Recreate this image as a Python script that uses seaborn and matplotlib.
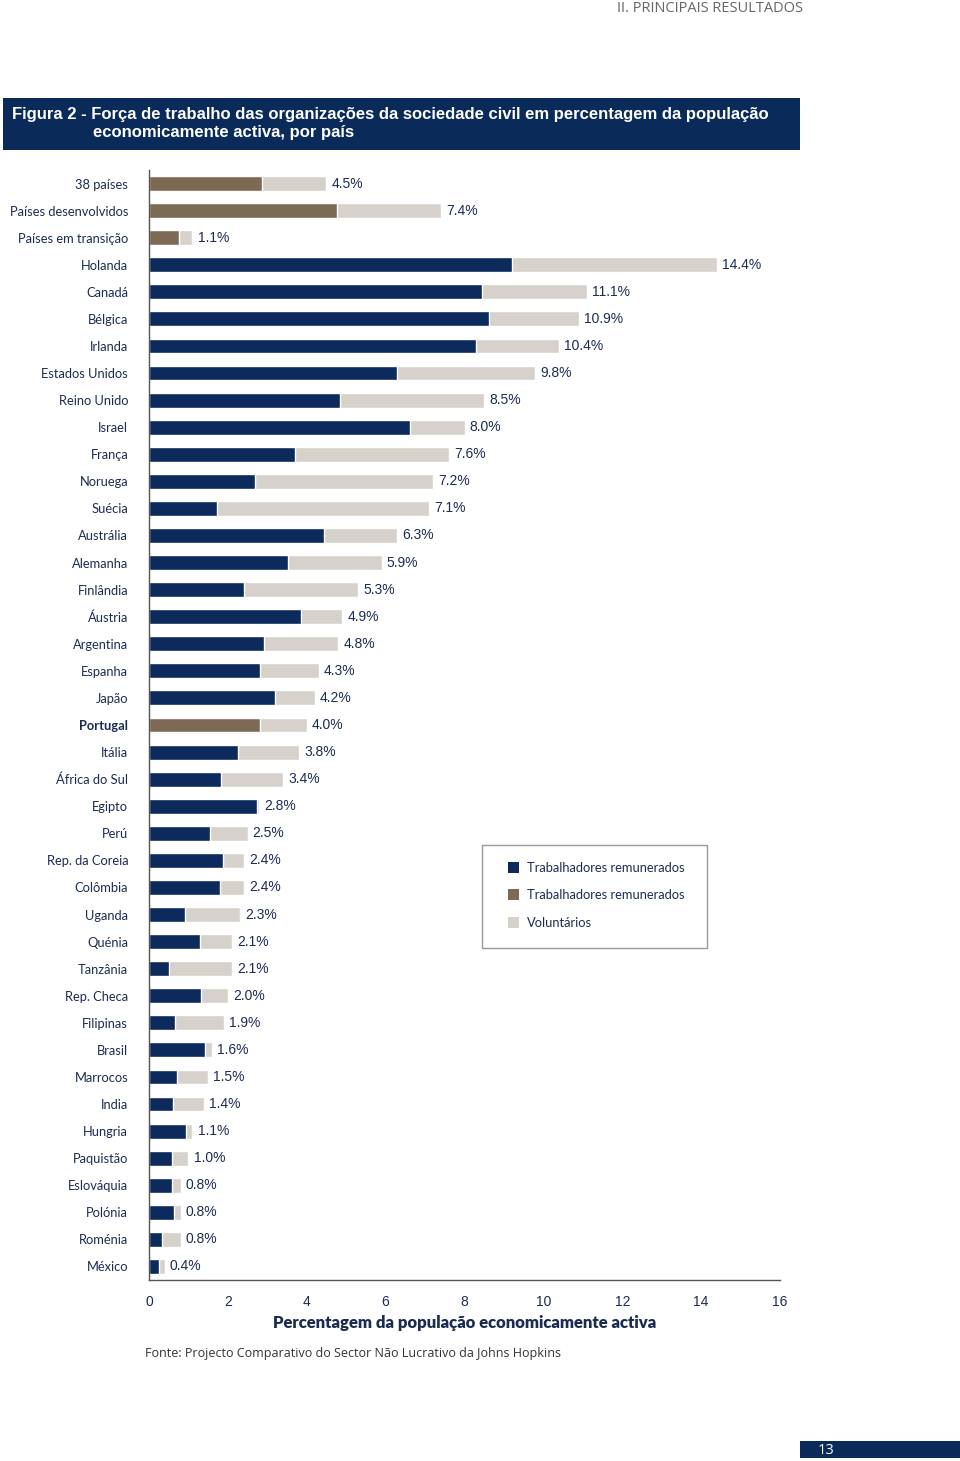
import numpy as np
import pandas as pd
import matplotlib
matplotlib.use("Agg")
import matplotlib.pyplot as plt
from matplotlib.patches import Rectangle
import seaborn as sns

# dados
paises = ["38 países", "Países desenvolvidos", "Países em transição", "Holanda", "Canadá",
          "Bélgica", "Irlanda", "Estados Unidos", "Reino Unido", "Israel", "França", "Noruega",
          "Suécia", "Austrália", "Alemanha", "Finlândia", "Áustria", "Argentina", "Espanha",
          "Japão", "Portugal", "Itália", "África do Sul", "Egipto", "Perú", "Rep. da Coreia",
          "Colômbia", "Uganda", "Quénia", "Tanzânia", "Rep. Checa", "Filipinas", "Brasil",
          "Marrocos", "India", "Hungria", "Paquistão", "Eslováquia", "Polónia", "Roménia", "México"]
total = [4.5, 7.4, 1.1, 14.4, 11.1, 10.9, 10.4, 9.8, 8.5, 8.0, 7.6, 7.2, 7.1, 6.3, 5.9, 5.3,
         4.9, 4.8, 4.3, 4.2, 4.0, 3.8, 3.4, 2.8, 2.5, 2.4, 2.4, 2.3, 2.1, 2.1, 2.0, 1.9, 1.6,
         1.5, 1.4, 1.1, 1.0, 0.8, 0.8, 0.8, 0.4]
remunerados = [2.87, 4.77, 0.76, 9.2, 8.44, 8.62, 8.29, 6.29, 4.84, 6.62, 3.70, 2.69, 1.72,
               4.44, 3.52, 2.41, 3.85, 2.92, 2.81, 3.19, 2.81, 2.26, 1.83, 2.74, 1.55, 1.88,
               1.80, 0.91, 1.29, 0.51, 1.32, 0.66, 1.42, 0.71, 0.61, 0.94, 0.58, 0.58, 0.63,
               0.33, 0.25]
destaque = ["38 países", "Países desenvolvidos", "Países em transição", "Portugal"]

NAVY = "#0c2a5c"
BROWN = "#7d6a55"
GRAY = "#d7d1cb"
TXT = "#1b2b52"
FONTE = ["Lato", "DejaVu Sans"]

df = pd.DataFrame({"pais": paises, "total": total, "pago": remunerados})
cores = {p: (BROWN if p in destaque else NAVY) for p in paises}

sns.set_style("white")
plt.rcParams["font.family"] = FONTE

fig = plt.figure(figsize=(9.6, 14.61), dpi=100)
W, H = 960, 1461
ax = fig.add_axes([149 / W, 1 - 1280 / H, 631 / W, 1110 / H])

sns.barplot(data=df, x="total", y="pais", color=GRAY, width=0.55, ax=ax, saturation=1)
sns.barplot(data=df, x="pago", y="pais", hue="pais", palette=cores, legend=False,
            width=0.55, ax=ax, saturation=1)

for i, t in enumerate(total):
    ax.text(t + 0.13, i, f"{t:.1f}%", va="center", ha="left", fontsize=10,
            family="Liberation Sans", color=TXT)

ax.set_xlim(0, 16)
ax.set_ylim(40.5, -0.5)
ax.set_xticks(range(0, 17, 2))
ax.tick_params(axis="x", direction="out", length=5, width=1, color="#555555",
               labelsize=10, labelcolor=TXT, pad=6)
ax.tick_params(axis="y", length=0, labelsize=9.3, labelcolor=TXT, pad=15)
for lab in ax.get_xticklabels():
    lab.set_family("Liberation Sans")
for lab in ax.get_yticklabels():
    if lab.get_text() == "Portugal":
        lab.set_fontweight("bold")
ax.set_ylabel("")
ax.set_xlabel("Percentagem da população economicamente activa", fontsize=12,
              fontweight="heavy", color=TXT, labelpad=4)
for s in ["top", "right"]:
    ax.spines[s].set_visible(False)
for s in ["left", "bottom"]:
    ax.spines[s].set_color("#555555")
    ax.spines[s].set_linewidth(1)

# legenda
leg = Rectangle((482 / W, 1 - 948 / H), 225 / W, 103 / H, transform=fig.transFigure,
                facecolor="white", edgecolor="#999999", lw=1)
fig.patches.append(leg)
for yy, c, t in [(868, NAVY, "Trabalhadores remunerados"), (895, BROWN, "Trabalhadores remunerados"),
                 (923, GRAY, "Voluntários")]:
    fig.patches.append(Rectangle((508 / W, 1 - (yy + 5) / H), 11 / W, 11 / H,
                                 transform=fig.transFigure, facecolor=c, edgecolor="none"))
    fig.text(527 / W, 1 - yy / H, t, va="center", ha="left", fontsize=9.3, color=TXT)

# cabeçalho
fig.text(617 / W, 1 - 9 / H, "II. PRINCIPAIS RESULTADOS", va="center", ha="left",
         fontsize=10.5, color="#666666", family=["Open Sans", "DejaVu Sans"])
fig.patches.append(Rectangle((3 / W, 1 - 150 / H), 797 / W, 52 / H, transform=fig.transFigure,
                             facecolor="#0a2a5a", edgecolor="none"))
fig.text(12 / W, 1 - 114 / H,
         "Figura 2 - Força de trabalho das organizações da sociedade civil em percentagem da população",
         va="center", ha="left", fontsize=12, fontweight="bold", color="white",
         family=["Liberation Sans", "DejaVu Sans"])
fig.text(93 / W, 1 - 132 / H, "economicamente activa, por país", va="center", ha="left",
         fontsize=12, fontweight="bold", color="white", family=["Liberation Sans", "DejaVu Sans"])

fig.text(145 / W, 1 - 1354 / H,
         "Fonte: Projecto Comparativo do Sector Não Lucrativo da Johns Hopkins",
         va="center", ha="left", fontsize=9, color="#333333", family=["Open Sans", "DejaVu Sans"])

# número da página
fig.patches.append(Rectangle((800 / W, 1 - 1458 / H), 160 / W, 17 / H, transform=fig.transFigure,
                             facecolor="#0a2a5a", edgecolor="none"))
fig.text(818 / W, 1 - 1450 / H, "13", va="center", ha="left", fontsize=10.5, color="white",
         family=["Open Sans", "DejaVu Sans"])

fig.savefig("out.png", dpi=100)
